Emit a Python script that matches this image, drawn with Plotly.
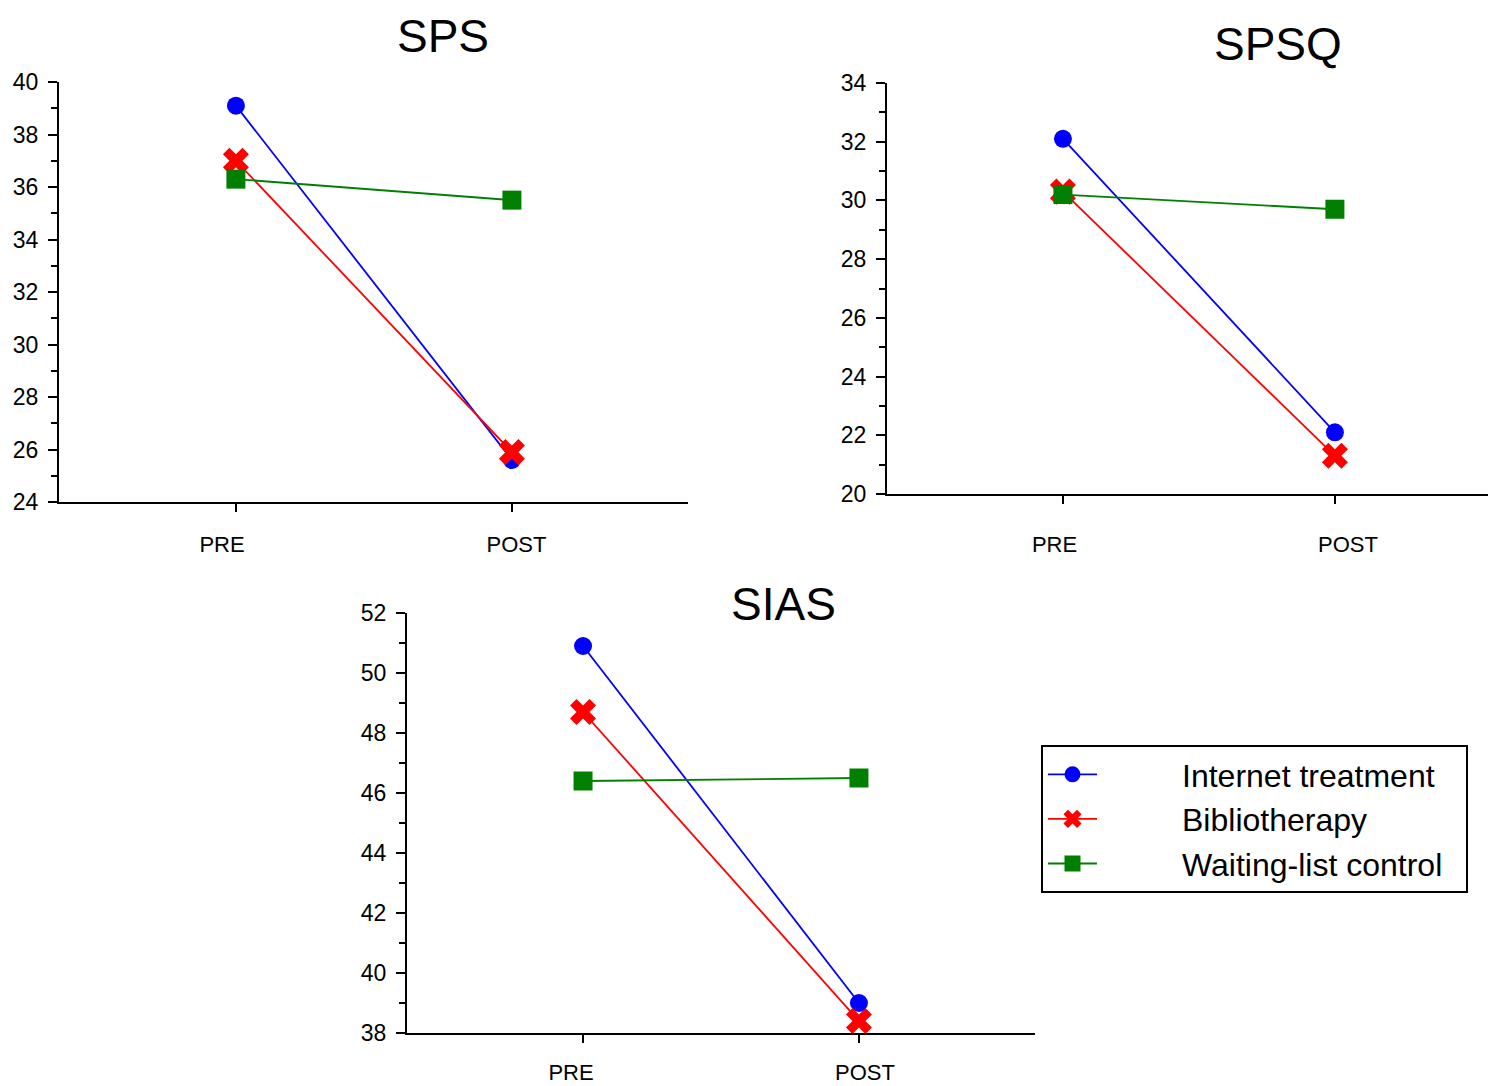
import plotly.graph_objects as go

W, H = 1496, 1086
OFF = 8  # page body margin in the browser

categories = ["PRE", "POST"]
series_names = ["Internet treatment", "Bibliotherapy", "Waiting-list control"]

sps_internet = [39.1, 25.6]
sps_biblio = [37.0, 25.9]
sps_waiting = [36.3, 35.5]

spsq_internet = [32.1, 22.1]
spsq_biblio = [30.3, 21.3]
spsq_waiting = [30.2, 29.7]

sias_internet = [50.9, 39.0]
sias_biblio = [48.7, 38.4]
sias_waiting = [46.4, 46.5]

panel_titles = ["SPS", "SPSQ", "SIAS"]

colors = ["#0000FF", "#FF0000", "#007F00"]
symbols = ["circle", "x", "square"]
msizes = [18, 23, 19]

FONT = "Arial, Liberation Sans, sans-serif"
PAD = "\u00a0" * 9
TRAIL = "\u00a0" * 2

fig = go.Figure()

panels = [
    ([sps_internet, sps_biblio, sps_waiting], "x", "y"),
    ([spsq_internet, spsq_biblio, spsq_waiting], "x2", "y2"),
    ([sias_internet, sias_biblio, sias_waiting], "x3", "y3"),
]

for pi, (vals, xa, ya) in enumerate(panels):
    for si, v in enumerate(vals):
        fig.add_trace(go.Scatter(
            x=categories, y=v, xaxis=xa, yaxis=ya,
            mode="lines+markers", name=PAD + series_names[si] + TRAIL,
            showlegend=(pi == 0),
            line=dict(color=colors[si], width=1.8),
            marker=dict(symbol=symbols[si], size=msizes[si], color=colors[si],
                        line=dict(width=0)),
        ))

def fx(px):
    return (px - OFF) / W

def fy(px):
    return (H - (px - OFF)) / H

def px_dom_x(a, b):
    return [fx(a), fx(b)]

def px_dom_y(top, bottom):
    return [fy(bottom), fy(top)]

def xaxis(dom, rng, anchor):
    return dict(domain=dom, anchor=anchor, type="category", range=rng, showline=True,
                linecolor="black", linewidth=2, ticks="outside", ticklen=8, tickwidth=2,
                tickcolor="black", showgrid=False, zeroline=False, showticklabels=False,
                automargin=False)

def label_axis(over, anchor, left, right, p0, p1, standoff):
    s = p1 - p0
    return dict(overlaying=over, anchor=anchor, type="linear",
                range=[(left - p0) / s, (right - p0) / s],
                tickmode="array", tickvals=list(range(len(categories))), ticktext=categories,
                showline=False, ticks="", showgrid=False, zeroline=False,
                automargin=False, ticklabelstandoff=standoff,
                tickfont=dict(family=FONT, size=22, color="black"))

def yaxis(dom, rng, anchor):
    return dict(domain=dom, range=rng, anchor=anchor, showline=True, linecolor="black",
                linewidth=2, ticks="outside", ticklen=9, tickwidth=2, tickcolor="black",
                dtick=2, tick0=0, showgrid=False, zeroline=False, automargin=False,
                ticklabelstandoff=5,
                minor=dict(dtick=1, ticks="outside", ticklen=6, tickwidth=2, tickcolor="black",
                           showgrid=False),
                tickfont=dict(family=FONT, size=23, color="black"))

fig.update_layout(
    width=W, height=H,
    margin=dict(l=0, r=0, t=0, b=0, pad=0),
    paper_bgcolor="white", plot_bgcolor="white",
    xaxis=xaxis(px_dom_x(59, 688), [-0.641, 1.638], "y"),
    yaxis=yaxis(px_dom_y(82, 502), [24, 40], "x"),
    xaxis2=xaxis(px_dom_x(887, 1494), [-0.647, 1.585], "y2"),
    yaxis2=yaxis(px_dom_y(83, 494), [20, 34], "x2"),
    xaxis3=xaxis(px_dom_x(407, 1035), [-0.638, 1.638], "y3"),
    yaxis3=yaxis(px_dom_y(613, 1033), [38, 52], "x3"),
    xaxis4=label_axis("x", "y", 59, 688, 222, 516.5, 27),
    xaxis5=label_axis("x2", "y2", 887, 1494, 1054.5, 1348, 35),
    xaxis6=label_axis("x3", "y3", 407, 1035, 571, 865, 24),
    showlegend=True,
    legend=dict(x=fx(1041), y=fy(745), xanchor="left", yanchor="top",
                bordercolor="black", borderwidth=2, bgcolor="white",
                font=dict(family=FONT, size=32, color="black"),
                itemwidth=49, tracegroupgap=0),
)

# invisible anchor traces so the label axes are drawn
for xa, ya in [("x4", "y"), ("x5", "y2"), ("x6", "y3")]:
    fig.add_trace(go.Scatter(x=[None], y=[None], xaxis=xa, yaxis=ya, showlegend=False,
                             hoverinfo="skip", mode="markers"))

title_pos = [(443, "top", 0), (1278, "middle", 44), (783, "middle", 604)]
for t, (cx, anc, cy) in zip(panel_titles, title_pos):
    yv = 1.0 if anc == "top" else fy(cy)
    fig.add_annotation(text=t, x=fx(cx), y=yv, xref="paper", yref="paper",
                       xanchor="center", yanchor=anc, showarrow=False,
                       font=dict(family=FONT, size=46, color="black"))

fig.write_html("out.html")
